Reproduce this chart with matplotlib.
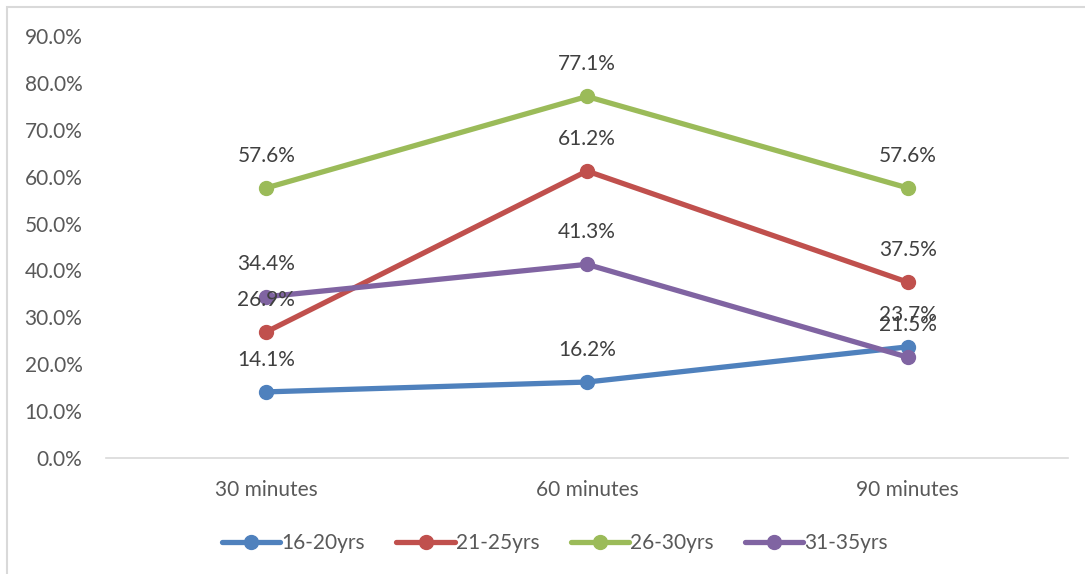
import matplotlib.pyplot as plt
from matplotlib.patches import Rectangle

categories = ['30 minutes', '60 minutes', '90 minutes']
series_names = ['16-20yrs', '21-25yrs', '26-30yrs', '31-35yrs']
v16_20 = [14.1, 16.2, 23.7]
v21_25 = [26.9, 61.2, 37.5]
v26_30 = [57.6, 77.1, 57.6]
v31_35 = [34.4, 41.3, 21.5]
colors = ['#4f81bd', '#c0504d', '#9bbb59', '#8064a2']

plt.rcParams['font.family'] = ['Lato', 'DejaVu Sans']

fig = plt.figure(figsize=(10.85, 5.74), dpi=100)
ax = fig.add_axes([106 / 1085, 1 - 458 / 574, 962 / 1085, (458 - 36) / 574])

x = list(range(len(categories)))
for name, vals, c in zip(series_names, [v16_20, v21_25, v26_30, v31_35], colors):
    ax.plot(x, vals, color=c, lw=3.8, marker='o', ms=10, label=name,
            solid_capstyle='round')
    for xi, v in zip(x, vals):
        ax.annotate(f'{v:.1f}%', (xi, v), xytext=(0, 16), textcoords='offset points',
                    ha='center', va='bottom', fontsize=15, color='#404040')

ax.set_xlim(-0.5, 2.5)
ax.set_ylim(0, 90)
ax.set_yticks(range(0, 91, 10))
ax.set_yticklabels([f'{t:.1f}%' for t in range(0, 91, 10)])
ax.set_xticks(x)
ax.set_xticklabels(categories)
ax.tick_params(axis='both', length=0, labelsize=15, colors='#595959')
ax.tick_params(axis='y', pad=17)
ax.tick_params(axis='x', pad=16)
for s in ['top', 'right', 'left']:
    ax.spines[s].set_visible(False)
ax.spines['bottom'].set_color('#d9d9d9')
ax.spines['bottom'].set_linewidth(1.2)

ax.legend(loc='center', bbox_to_anchor=(555 / 1085, 1 - 543 / 574), bbox_transform=fig.transFigure,
          ncol=4, frameon=False, fontsize=15, handlelength=2.8, handletextpad=0.05,
          columnspacing=1.5, labelcolor='#595959')

fig.patches.append(Rectangle((7 / 1085, -0.1), 1.2, 1 - 7 / 574 + 0.1, transform=fig.transFigure,
                             fill=False, edgecolor='#d9d9d9', lw=1.5))

fig.savefig('out.png', dpi=100)
